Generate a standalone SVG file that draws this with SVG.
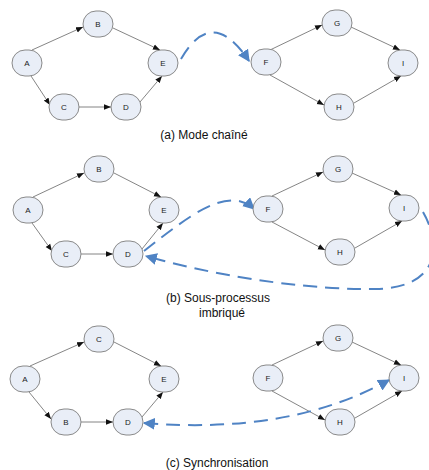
<svg xmlns="http://www.w3.org/2000/svg" width="429" height="470" viewBox="0 0 429 470">
<style>
.n rect{fill:#e9eef7;stroke:#8a8a8a;stroke-width:1}
.n text{font-family:"Liberation Sans",Arial,sans-serif;font-size:8px;fill:#222;text-anchor:middle}
.e{stroke:#666;stroke-width:0.8;fill:none;marker-end:url(#ah)}
.d{stroke:#4f83c4;stroke-width:2;fill:none;stroke-dasharray:14,8}
.cap{font-family:"Liberation Sans",Arial,sans-serif;font-size:12px;fill:#111;text-anchor:middle}
</style>
<defs>
<marker id="ah" viewBox="0 0 10 10" refX="10" refY="5" markerWidth="7" markerHeight="7" orient="auto" markerUnits="userSpaceOnUse"><path d="M0,1L10,5L0,9z" fill="#111"/></marker>
<marker id="bh" viewBox="0 0 10 10" refX="9" refY="5" markerWidth="12" markerHeight="12" orient="auto-start-reverse" markerUnits="userSpaceOnUse"><path d="M0,0L10,5L0,10z" fill="#4f83c4"/></marker>
</defs>
<g id="connectors">
<!-- (a) -->
<path class="e" d="M32,50L83,27"/><path class="e" d="M113,28L160,50"/><path class="e" d="M31,76L50,105"/><path class="e" d="M79,107L111,107"/><path class="e" d="M140,102L162,76"/>
<path class="e" d="M270,50L322,25"/><path class="e" d="M351,27L400,50"/><path class="e" d="M270,75L324,105"/><path class="e" d="M354,103L401,76"/>
<path class="d" d="M181,59Q212,5 249,61" marker-end="url(#bh)"/>
<!-- (b) -->
<path class="e" d="M33,197L84,173"/><path class="e" d="M114,173L161,197"/><path class="e" d="M32,223L52,251"/><path class="e" d="M81,254L113,254"/><path class="e" d="M142,249L163,223"/>
<path class="e" d="M272,196L323,172"/><path class="e" d="M352,173L401,195"/><path class="e" d="M272,222L325,250"/><path class="e" d="M355,248L402,221"/>
<path class="d" d="M144,251C190,215 228,185 254,209" marker-end="url(#bh)"/>
<path class="d" d="M423,212C442,245 440,288 375,289C320,290 230,280 146,256" marker-end="url(#bh)"/>
<!-- (c) -->
<path class="e" d="M30,366L84,342"/><path class="e" d="M114,342L161,366"/><path class="e" d="M29,392L51,419"/><path class="e" d="M81,422L113,422"/><path class="e" d="M142,417L163,392"/>
<path class="e" d="M272,365L323,341"/><path class="e" d="M352,342L401,365"/><path class="e" d="M272,391L325,420"/><path class="e" d="M355,418L402,391"/>
<path class="d" d="M144,423Q290,435 389,380" marker-start="url(#bh)" marker-end="url(#bh)"/>
</g>
<!-- nodes (a) -->
<g id="a-A" class="n"><rect x="12" y="50" width="30" height="26" rx="13"/><text x="27" y="66">A</text></g>
<g id="a-B" class="n"><rect x="83" y="11" width="30" height="26" rx="13"/><text x="98" y="27">B</text></g>
<g id="a-C" class="n"><rect x="49" y="94" width="30" height="26" rx="13"/><text x="64" y="110">C</text></g>
<g id="a-D" class="n"><rect x="111" y="94" width="30" height="26" rx="13"/><text x="126" y="110">D</text></g>
<g id="a-E" class="n"><rect x="148" y="50" width="30" height="26" rx="13"/><text x="163" y="66">E</text></g>
<g id="a-F" class="n"><rect x="251" y="49" width="30" height="26" rx="13"/><text x="266" y="65">F</text></g>
<g id="a-G" class="n"><rect x="322" y="10" width="30" height="26" rx="13"/><text x="337" y="26">G</text></g>
<g id="a-H" class="n"><rect x="324" y="94" width="30" height="26" rx="13"/><text x="339" y="110">H</text></g>
<g id="a-I" class="n"><rect x="388" y="50" width="30" height="26" rx="13"/><text x="403" y="66">I</text></g>
<text class="cap" x="204" y="139">(a) Mode chaîné</text>
<!-- nodes (b) -->
<g id="b-A" class="n"><rect x="13" y="197" width="30" height="26" rx="13"/><text x="28" y="213">A</text></g>
<g id="b-B" class="n"><rect x="84" y="156" width="30" height="26" rx="13"/><text x="99" y="172">B</text></g>
<g id="b-C" class="n"><rect x="51" y="241" width="30" height="26" rx="13"/><text x="66" y="257">C</text></g>
<g id="b-D" class="n"><rect x="113" y="241" width="30" height="26" rx="13"/><text x="128" y="257">D</text></g>
<g id="b-E" class="n"><rect x="149" y="197" width="30" height="26" rx="13"/><text x="164" y="213">E</text></g>
<g id="b-F" class="n"><rect x="253" y="196" width="30" height="26" rx="13"/><text x="268" y="212">F</text></g>
<g id="b-G" class="n"><rect x="323" y="156" width="30" height="26" rx="13"/><text x="338" y="172">G</text></g>
<g id="b-H" class="n"><rect x="325" y="239" width="30" height="26" rx="13"/><text x="340" y="255">H</text></g>
<g id="b-I" class="n"><rect x="389" y="195" width="30" height="26" rx="13"/><text x="404" y="211">I</text></g>
<text class="cap" x="218" y="302">(b) Sous-processus</text>
<text class="cap" x="222" y="317">imbriqué</text>
<!-- nodes (c) -->
<g id="c-A" class="n"><rect x="10" y="366" width="30" height="26" rx="13"/><text x="25" y="382">A</text></g>
<g id="c-C" class="n"><rect x="84" y="326" width="30" height="26" rx="13"/><text x="99" y="342">C</text></g>
<g id="c-B" class="n"><rect x="51" y="409" width="30" height="26" rx="13"/><text x="66" y="425">B</text></g>
<g id="c-D" class="n"><rect x="113" y="409" width="30" height="26" rx="13"/><text x="128" y="425">D</text></g>
<g id="c-E" class="n"><rect x="149" y="366" width="30" height="26" rx="13"/><text x="164" y="382">E</text></g>
<g id="c-F" class="n"><rect x="253" y="365" width="30" height="26" rx="13"/><text x="268" y="381">F</text></g>
<g id="c-G" class="n"><rect x="323" y="325" width="30" height="26" rx="13"/><text x="338" y="341">G</text></g>
<g id="c-H" class="n"><rect x="325" y="409" width="30" height="26" rx="13"/><text x="340" y="425">H</text></g>
<g id="c-I" class="n"><rect x="389" y="365" width="30" height="26" rx="13"/><text x="404" y="381">I</text></g>
<text class="cap" x="217" y="467">(c) Synchronisation</text>
</svg>
